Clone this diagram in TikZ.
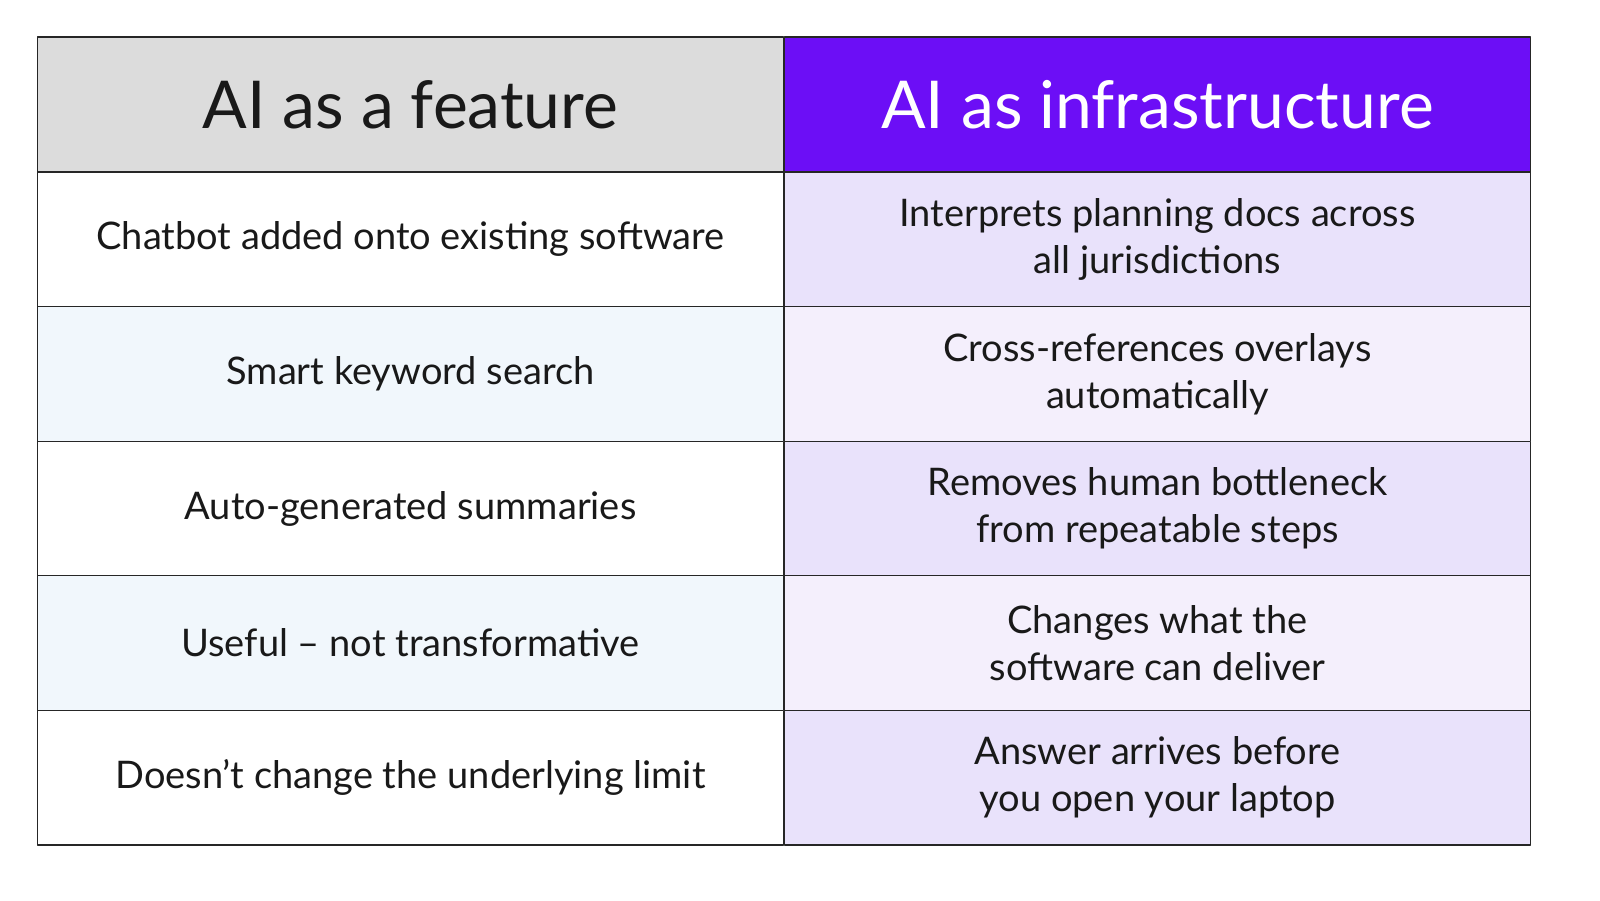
\documentclass[tikz,border=0pt]{standalone}
\usepackage{fontspec}
\setmainfont{Lato}
\definecolor{hdgray}{HTML}{DCDCDC}
\definecolor{hdpurple}{HTML}{6C0EF6}
\definecolor{rowblue}{HTML}{F1F7FC}
\definecolor{lavA}{HTML}{E9E2FB}
\definecolor{lavB}{HTML}{F4EFFC}
\tikzset{
  cell/.style={draw=black!85,line width=1.2pt,minimum width=746pt,minimum height=134.6pt,
    inner sep=0pt,align=center,font=\fontsize{38}{47}\selectfont,text=black!90},
  head/.style={cell,minimum height=135pt,font=\fontsize{66}{70}\selectfont},
}
\begin{document}
\begin{tikzpicture}[x=1pt,y=-1pt,line join=round]
		\useasboundingbox[fill=white] (0,0) rectangle (1600,900);
		\node[head,fill=hdgray] (fh) at (410.5,104.5) {AI as a feature};
		\node[head,fill=hdpurple,text=white] (ih) at (1157.5,104.5) {AI as infrastructure};
		\node[cell,fill=white] (f1) at (410.5,239.3) {Chatbot added onto existing software};
		\node[cell,fill=lavA] (i1) at (1157.5,239.3) {Interprets planning docs across\\all jurisdictions};
		\node[cell,fill=rowblue] (f2) at (410.5,373.9) {Smart keyword search};
		\node[cell,fill=lavB] (i2) at (1157.5,373.9) {Cross-references overlays\\automatically};
		\node[cell,fill=white] (f3) at (410.5,508.5) {Auto-generated summaries};
		\node[cell,fill=lavA] (i3) at (1157.5,508.5) {Removes human bottleneck\\from repeatable steps};
		\node[cell,fill=rowblue] (f4) at (410.5,643.1) {Useful -- not transformative};
		\node[cell,fill=lavB] (i4) at (1157.5,643.1) {Changes what the\\software can deliver};
		\node[cell,fill=white] (f5) at (410.5,777.7) {Doesn't change the underlying limit};
		\node[cell,fill=lavA] (i5) at (1157.5,777.7) {Answer arrives before\\you open your laptop};
	\end{tikzpicture}
\end{document}
